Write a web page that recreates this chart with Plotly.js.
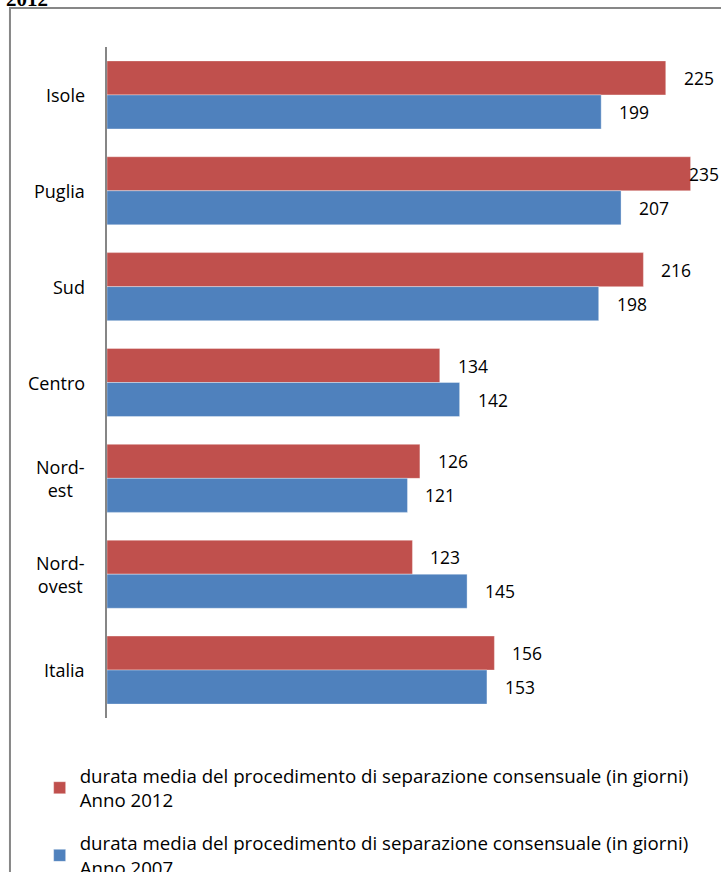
<!DOCTYPE html>
<html>
<head>
<meta charset="utf-8">
<script src="https://cdn.plot.ly/plotly-3.0.1.min.js"></script>
<style>html,body{margin:0;padding:0;background:#fff;}#chart{width:721px;height:872px;}</style>
</head>
<body>
<div id="chart"></div>
<script>
// ---- data ----
const categories = ["Isole", "Puglia", "Sud", "Centro", "Nord-est", "Nord-ovest", "Italia"];
const categoryLabels = ["Isole", "Puglia", "Sud", "Centro", "Nord-<br>est", "Nord-<br>ovest", "Italia"];
const values2012 = [225, 235, 216, 134, 126, 123, 156];
const values2007 = [199, 207, 198, 142, 121, 145, 153];
const seriesNames = [
  "durata media del procedimento di separazione consensuale (in giorni)<br>Anno 2012",
  "durata media del procedimento di separazione consensuale (in giorni)<br>Anno 2007"
];
const headerText = "2012";

// ---- styling ----
const FONT = "'Open Sans', Lato, sans-serif";
const RED = "#C0504D", BLUE = "#4F81BD";
const XMAX = 240;
const LABEL_LIMIT = 227; // labels pushed back inside the chart area

const traces = [
  {type: "bar", orientation: "h", name: seriesNames[0], legendgroup: "a", y: categories, x: values2012,
   marker: {color: RED, line: {color: "rgba(255,255,255,0.35)", width: 1}}, hoverinfo: "x+y"},
  {type: "bar", orientation: "h", name: seriesNames[1], legendgroup: "b", y: categories, x: values2007,
   marker: {color: BLUE, line: {color: "rgba(255,255,255,0.35)", width: 1}}, hoverinfo: "x+y"}
];

const annotations = [];
function addLabels(vals, shift) {
  vals.forEach((v, i) => {
    const over = v > LABEL_LIMIT;
    annotations.push({
      x: over ? LABEL_LIMIT : v, y: categories[i], xref: "x", yref: "y",
      text: String(v), showarrow: false, xanchor: "left", yanchor: "middle",
      xshift: 16, yshift: shift, font: {family: FONT, size: 17.5, color: "#000"}
    });
  });
}
addLabels(values2012, 17);
addLabels(values2007, -17);
categories.forEach((c, i) => {
  annotations.push({
    x: 0, xref: "paper", y: c, yref: "y", text: categoryLabels[i], showarrow: false,
    xanchor: "right", yanchor: "middle", align: "center", xshift: -20,
    font: {family: FONT, size: 18, color: "#000"}
  });
});
annotations.push({
  x: -0.172, xref: "paper", y: 1.071, yref: "paper", text: "<b>" + headerText + "</b>",
  showarrow: false, xanchor: "left", yanchor: "middle",
  font: {family: "'Liberation Serif', 'DejaVu Serif', serif", size: 21, color: "#000"}
});

const layout = {
  width: 721, height: 872,
  margin: {l: 107, r: 18, t: 47, b: 154, pad: 0, autoexpand: false},
  paper_bgcolor: "#fff", plot_bgcolor: "#fff",
  barmode: "group", bargap: 0.29, bargroupgap: 0,
  showlegend: true,
  legend: {x: -0.113, xanchor: "left", y: -0.058, yanchor: "top", orientation: "v",
           font: {family: FONT, size: 18.7, color: "#000"}, tracegroupgap: 16,
           bgcolor: "rgba(0,0,0,0)", traceorder: "grouped"},
  xaxis: {range: [0, XMAX], showgrid: false, zeroline: false, showline: false,
          showticklabels: false, ticks: "", fixedrange: true},
  yaxis: {type: "category", autorange: "reversed", showgrid: false, zeroline: false,
          showline: true, linecolor: "#868686", linewidth: 2, ticks: "",
          showticklabels: false, fixedrange: true},
  annotations: annotations,
  shapes: [{type: "rect", xref: "paper", yref: "paper",
            x0: -0.1628, x1: 1.2, y0: -0.4, y1: 1.0581,
            line: {color: "#878787", width: 2}, fillcolor: "rgba(0,0,0,0)", layer: "below"}]
};

Plotly.newPlot("chart", traces, layout, {displayModeBar: false, staticPlot: true});
</script>
</body>
</html>
